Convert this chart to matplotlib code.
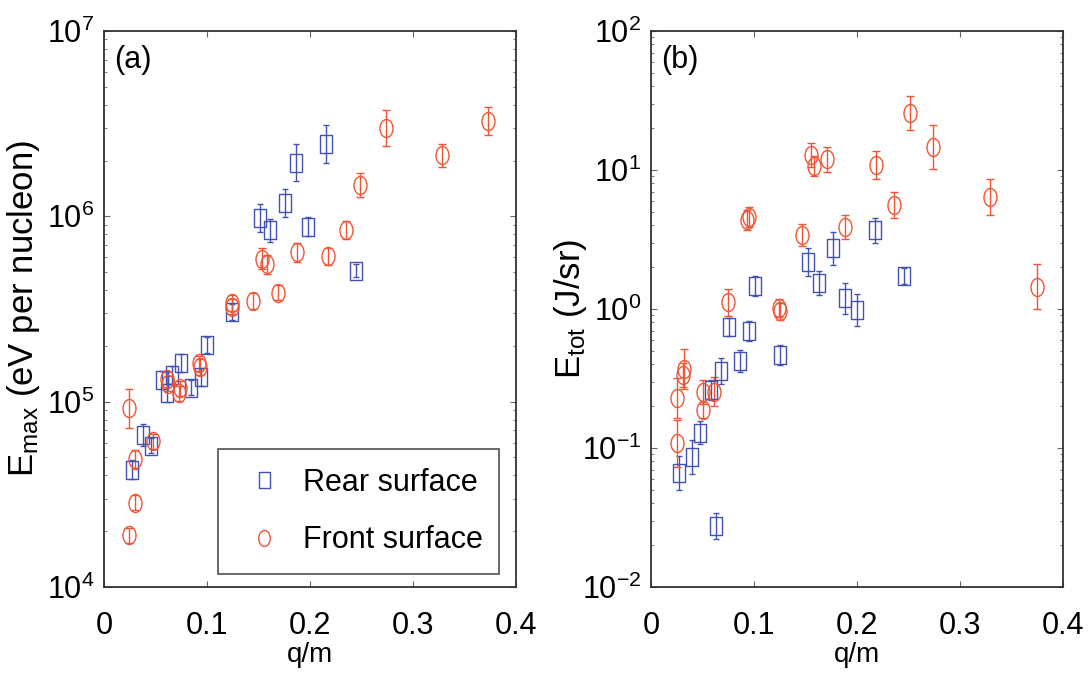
import numpy as np
import matplotlib
matplotlib.use('Agg')
import matplotlib.pyplot as plt
from matplotlib.path import Path
from matplotlib.lines import Line2D
from matplotlib.ticker import FuncFormatter, LogLocator, FixedLocator, NullFormatter
from matplotlib import font_manager as fm

# ---------------- data ----------------
# Panel (a): maximum energy per nucleon
q_rear_a = [0.027, 0.038, 0.046, 0.056, 0.061, 0.066, 0.0745, 0.084, 0.094, 0.100,
            0.124, 0.151, 0.161, 0.176, 0.186, 0.198, 0.216, 0.245]
emax_rear = [4.3e4, 6.6e4, 5.8e4, 1.31e5, 1.11e5, 1.39e5, 1.61e5, 1.19e5, 1.36e5, 2.02e5,
             3.05e5, 9.8e5, 8.4e5, 1.18e6, 1.95e6, 8.8e5, 2.45e6, 5.1e5]
emax_rear_err = [1.13, 1.15, 1.10, 1.12, 1.12, 1.12, 1.12, 1.10, 1.12, 1.10,
                 1.10, 1.19, 1.15, 1.19, 1.26, 1.13, 1.27, 1.08]

q_front_a = [0.0246, 0.0246, 0.030, 0.030, 0.048, 0.061, 0.062, 0.073, 0.074, 0.0925,
             0.093, 0.124, 0.124, 0.145, 0.153, 0.158, 0.169, 0.187, 0.217, 0.235,
             0.249, 0.274, 0.328, 0.373]
emax_front = [9.2e4, 1.9e4, 4.9e4, 2.85e4, 6.1e4, 1.32e5, 1.25e5, 1.11e5, 1.18e5, 1.61e5,
              1.54e5, 3.4e5, 3.25e5, 3.5e5, 5.9e5, 5.5e5, 3.87e5, 6.4e5, 6.1e5, 8.4e5,
              1.48e6, 3.0e6, 2.13e6, 3.27e6]
emax_front_err = [1.27, 1.10, 1.125, 1.10, 1.10, 1.10, 1.10, 1.10, 1.10, 1.10,
                  1.10, 1.10, 1.10, 1.10, 1.14, 1.12, 1.10, 1.125, 1.11, 1.12,
                  1.16, 1.25, 1.16, 1.19]

# Panel (b): total energy
q_rear_b = [0.0274, 0.0395, 0.0476, 0.058, 0.063, 0.0676, 0.076, 0.0864, 0.0955, 0.101,
            0.125, 0.1525, 0.163, 0.177, 0.188, 0.1997, 0.2175, 0.246]
etot_rear = [0.066, 0.0865, 0.129, 0.261, 0.0275, 0.36, 0.74, 0.42, 0.69, 1.46,
             0.47, 2.19, 1.53, 2.73, 1.19, 0.98, 3.7, 1.73]
etot_rear_err = [1.33, 1.32, 1.21, 1.18, 1.24, 1.24, 1.16, 1.20, 1.18, 1.18,
                 1.18, 1.26, 1.22, 1.32, 1.30, 1.30, 1.23, 1.14]

q_front_b = [0.0255, 0.0255, 0.0314, 0.032, 0.050, 0.0508, 0.061, 0.075, 0.093, 0.095,
             0.124, 0.1255, 0.1463, 0.155, 0.1585, 0.1706, 0.188, 0.2184, 0.236, 0.251,
             0.274, 0.329, 0.3745]
etot_front = [0.108, 0.23, 0.335, 0.37, 0.254, 0.188, 0.254, 1.12, 4.4, 4.6,
              1.02, 0.96, 3.4, 12.8, 10.7, 11.9, 3.9, 10.9, 5.6, 25.6,
              14.7, 6.4, 1.45]
etot_front_err = [1.47, 1.39, 1.22, 1.39, 1.22, 1.14, 1.27, 1.25, 1.18, 1.18,
                  1.16, 1.16, 1.20, 1.22, 1.18, 1.23, 1.22, 1.26, 1.24, 1.33,
                  1.44, 1.35, 1.46]

x_ticks = [0, 0.1, 0.2, 0.3, 0.4]
legend_labels = ['Rear surface', 'Front surface']
panel_labels = ['(a)', '(b)']
y_labels = [r'E$_{\mathregular{max}}$ (eV per nucleon)', r'E$_{\mathregular{tot}}$ (J/sr)']

# ---------------- style ----------------
names = {f.name for f in fm.fontManager.ttflist}
FONT = 'Liberation Sans Narrow' if 'Liberation Sans Narrow' in names else 'Liberation Sans'
plt.rcParams['font.family'] = [FONT, 'DejaVu Sans']
plt.rcParams['mathtext.fontset'] = 'custom'
plt.rcParams['mathtext.rm'] = FONT
plt.rcParams['mathtext.it'] = FONT
plt.rcParams['mathtext.bf'] = FONT

BLUE = '#4252b2'
RED = '#f05535'
FS = 22

rect_path = Path([(-0.36, -0.5), (0.36, -0.5), (0.36, 0.5), (-0.36, 0.5), (-0.36, -0.5)],
                 [Path.MOVETO, Path.LINETO, Path.LINETO, Path.LINETO, Path.CLOSEPOLY])
uc = Path.unit_circle()
ell_path = Path(uc.vertices * np.array([0.72, 1.0]), uc.codes)


def errs(vals, fac):
    v = np.asarray(vals, float)
    f = np.asarray(fac, float)
    return [v - v / f, v * f - v]


fig = plt.figure(figsize=(10.9, 6.8), dpi=100)
axa = fig.add_axes([104 / 1090, 93 / 680, 412 / 1090, 556 / 680])
axb = fig.add_axes([651 / 1090, 93 / 680, 412 / 1090, 556 / 680])


def log_fmt(v, pos):
    e = int(round(np.log10(v)))
    return r'$\mathregular{10^{%d}}$' % e


def x_fmt(v, pos):
    return '0' if abs(v) < 1e-9 else '%.1f' % v


series = [
    (axa, q_rear_a, emax_rear, emax_rear_err, q_front_a, emax_front, emax_front_err, (1e4, 1e7)),
    (axb, q_rear_b, etot_rear, etot_rear_err, q_front_b, etot_front, etot_front_err, (1e-2, 1e2)),
]

for i, (ax, qr, yr, er, qf, yf, ef, ylim) in enumerate(series):
    ax.errorbar(qr, yr, yerr=errs(yr, er), fmt='', marker=rect_path, linestyle='none',
                ms=12.5, mfc='none', mec=BLUE, mew=1.0, ecolor=BLUE, elinewidth=1.0,
                capsize=2.5, capthick=1.0)
    ax.errorbar(qf, yf, yerr=errs(yf, ef), fmt='', marker=ell_path, linestyle='none',
                ms=13, mfc='none', mec=RED, mew=1.0, ecolor=RED, elinewidth=1.0,
                capsize=3, capthick=1.0)
    ax.set_yscale('log')
    ax.set_xlim(0, 0.4)
    ax.set_ylim(*ylim)
    ax.xaxis.set_major_locator(FixedLocator(x_ticks))
    ax.xaxis.set_major_formatter(FuncFormatter(x_fmt))
    ax.yaxis.set_major_locator(LogLocator(base=10, numticks=10))
    ax.yaxis.set_major_formatter(FuncFormatter(log_fmt))
    ax.yaxis.set_minor_locator(LogLocator(base=10, subs=np.arange(2, 10), numticks=10))
    ax.yaxis.set_minor_formatter(NullFormatter())
    ax.tick_params(which='both', direction='in', top=True, right=True, color='#666666',
                   labelsize=FS)
    ax.tick_params(which='major', length=4, width=0.8)
    ax.tick_params(which='minor', length=2.5, width=0.6)
    ax.tick_params(axis='x', pad=17)
    ax.tick_params(axis='y', pad=7)
    for s in ax.spines.values():
        s.set_linewidth(1.3)
        s.set_color('#333333')
    ax.set_xlabel('q/m', fontsize=20, labelpad=1)
    ax.set_ylabel(y_labels[i], fontsize=25)
    ax.yaxis.set_label_coords(-0.15, 0.5)
    ax.text(0.025, 0.975, panel_labels[i], transform=ax.transAxes, ha='left', va='top',
            fontsize=FS)

handles = [
    Line2D([], [], marker=rect_path, color=BLUE, mfc='none', ls='none', ms=11, mew=1.0),
    Line2D([], [], marker=ell_path, color=RED, mfc='none', ls='none', ms=11.5, mew=1.0),
]
leg = axa.legend(handles, legend_labels, loc='center',
                 bbox_to_anchor=(0.276, 0.0167, 0.683, 0.238), mode='expand',
                 fontsize=FS, frameon=True, fancybox=False, borderpad=0.6,
                 labelspacing=0.9, handlelength=1.8, handletextpad=0.4,
                 borderaxespad=0)
leg.get_frame().set_edgecolor('#222222')
leg.get_frame().set_linewidth(1.2)

fig.savefig('out.png', dpi=100)
